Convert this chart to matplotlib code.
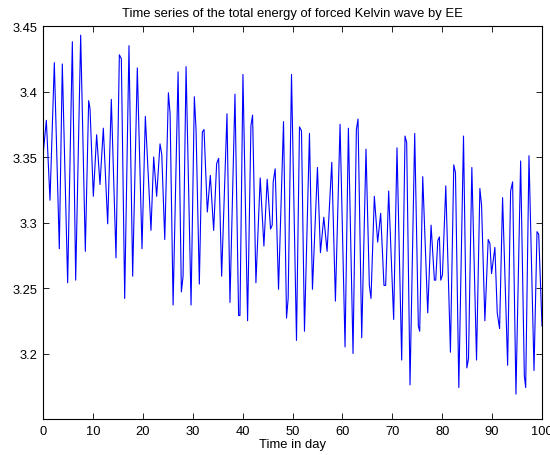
import matplotlib
matplotlib.use("Agg")
import matplotlib.pyplot as plt

plt.rcParams["font.family"] = ["Liberation Sans", "DejaVu Sans"]

# time (day) and total energy at the turning points of the series
days = [
    0.0, 0.67, 1.4, 2.27, 3.27, 3.87, 4.94, 5.88, 6.55, 7.55, 8.48, 9.15, 9.42,
    10.09, 10.75, 11.42, 12.09, 12.96, 13.69, 14.63, 15.30, 15.70, 16.37, 17.23,
    17.97, 18.90, 19.84, 20.51, 21.64, 22.18, 22.78, 23.45, 23.8, 24.4, 25.13,
    25.47, 26.07, 27.07, 27.73, 28.07, 28.67, 29.67, 30.33, 30.67, 31.33, 31.93,
    32.27, 32.93, 33.53, 34.2, 34.8, 35.2, 35.8, 36.87, 37.47, 38.47, 39.2, 39.47,
    40.07, 41.0, 41.67, 42.0, 42.67, 43.53, 44.27, 44.93, 45.6, 45.93, 46.13,
    46.53, 47.2, 48.2, 48.8, 49.13, 49.8, 50.8, 51.4, 51.8, 52.4, 53.4, 54.0,
    55.0, 55.6, 56.27, 56.93, 57.87, 58.6, 59.53, 60.53, 61.2, 62.13, 62.8,
    63.13, 63.87, 64.73, 65.4, 65.73, 66.4, 67.07, 67.67, 68.33, 68.67, 69.27,
    70.27, 70.94, 71.88, 72.55, 72.88, 73.55, 74.49, 75.22, 75.49, 76.1, 77.1,
    77.77, 78.44, 78.71, 79.11, 79.44, 79.71, 80.05, 80.72, 81.65, 82.32, 82.66,
    83.33, 84.27, 84.94, 85.27, 85.94, 86.88, 87.55, 87.89, 88.55, 89.22, 89.56,
    89.89, 90.56, 91.03, 91.5, 92.1, 93.11, 93.71, 94.11, 94.78, 95.72, 96.46,
    96.73, 97.39, 98.4, 99.0, 99.34, 100.0,
]
energy = [
    3.351, 3.378, 3.317, 3.422, 3.280, 3.421, 3.254, 3.438, 3.256, 3.443, 3.278,
    3.393, 3.387, 3.320, 3.367, 3.329, 3.372, 3.299, 3.394, 3.273, 3.428, 3.425,
    3.242, 3.435, 3.259, 3.418, 3.280, 3.381, 3.294, 3.350, 3.320, 3.360, 3.352,
    3.287, 3.399, 3.383, 3.237, 3.415, 3.247, 3.259, 3.419, 3.237, 3.396, 3.371,
    3.253, 3.369, 3.371, 3.308, 3.336, 3.294, 3.345, 3.349, 3.259, 3.383, 3.239,
    3.398, 3.229, 3.229, 3.413, 3.225, 3.374, 3.382, 3.254, 3.334, 3.282, 3.333,
    3.295, 3.298, 3.331, 3.341, 3.249, 3.377, 3.227, 3.242, 3.413, 3.210, 3.373,
    3.370, 3.217, 3.368, 3.249, 3.342, 3.277, 3.304, 3.278, 3.346, 3.240, 3.375,
    3.205, 3.372, 3.200, 3.371, 3.379, 3.212, 3.356, 3.252, 3.242, 3.320, 3.285,
    3.307, 3.252, 3.252, 3.324, 3.226, 3.357, 3.195, 3.366, 3.361, 3.176, 3.368,
    3.221, 3.217, 3.335, 3.231, 3.298, 3.256, 3.256, 3.286, 3.289, 3.256, 3.260,
    3.328, 3.201, 3.344, 3.338, 3.174, 3.366, 3.189, 3.196, 3.342, 3.195, 3.326,
    3.313, 3.225, 3.287, 3.284, 3.261, 3.281, 3.231, 3.219, 3.319, 3.191, 3.324,
    3.331, 3.169, 3.347, 3.183, 3.174, 3.351, 3.187, 3.293, 3.291, 3.221,
]

x_ticks = list(range(0, 101, 10))
y_ticks = [3.2, 3.25, 3.3, 3.35, 3.4, 3.45]
y_tick_labels = ["3.2", "3.25", "3.3", "3.35", "3.4", "3.45"]

fig = plt.figure(figsize=(5.5, 4.56), dpi=100)
ax = fig.add_axes([43 / 550, 36 / 456, 499 / 550, 393 / 456])
ax.plot(days, energy, color="#0000ff", lw=0.8)

ax.set_xlim(0, 100)
ax.set_ylim(3.15, 3.45)
ax.set_xticks(x_ticks)
ax.set_yticks(y_ticks)
ax.set_yticklabels(y_tick_labels)
ax.tick_params(direction="in", top=True, right=True, length=4, width=0.6,
               labelsize=9.3, pad=4)
for spine in ax.spines.values():
    spine.set_linewidth(0.8)

ax.set_xlabel("Time in day", fontsize=9.4, labelpad=1)
ax.set_title("Time series of the total energy of forced Kelvin wave by EE",
             fontsize=9.4, pad=7)

fig.savefig("out.png", dpi=100)
